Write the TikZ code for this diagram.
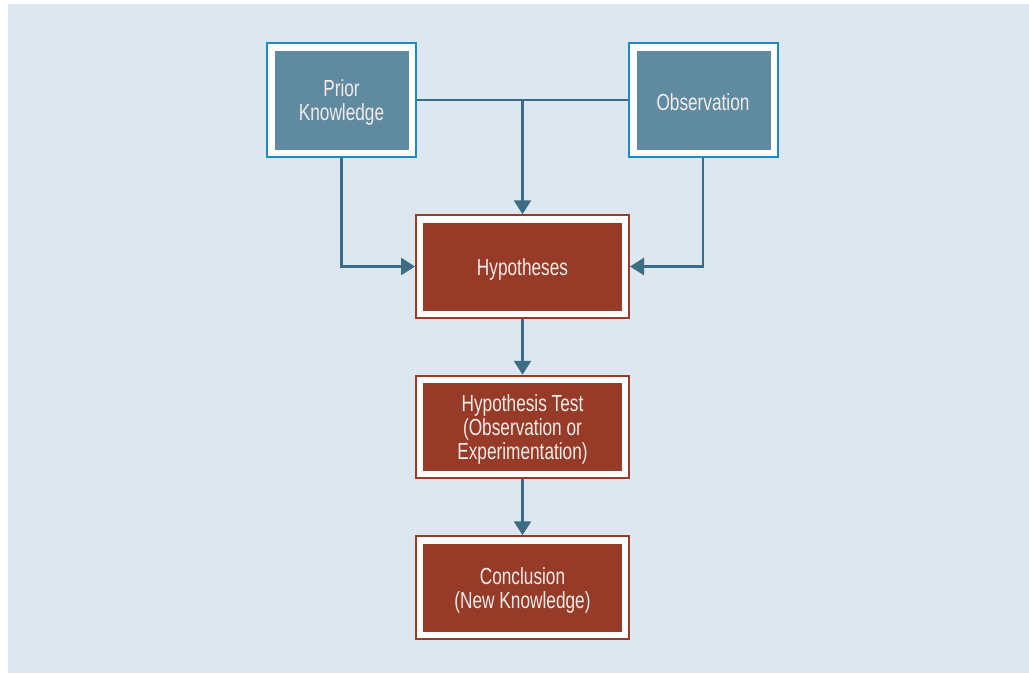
\documentclass[tikz,border=0pt]{standalone}
\usepackage{fontspec}
\setmainfont{Liberation Sans}[FakeStretch=0.74]
\usetikzlibrary{arrows.meta}
\definecolor{bgc}{HTML}{DCE7EF}
\definecolor{bluefill}{HTML}{5F8A9F}
\definecolor{blueline}{HTML}{1B8BC1}
\definecolor{redfill}{HTML}{963B27}
\definecolor{redline}{HTML}{9A3B2A}
\definecolor{conn}{HTML}{3C6D85}
\definecolor{txt}{HTML}{F4ECEA}
\tikzset{
  boxbase/.style={draw=#1, fill=white, line width=2pt, inner sep=0pt},
  boxtext/.style={align=center, text=txt, inner sep=0pt, yshift=-2.5pt,
    font=\fontsize{23.3}{24}\selectfont},
  bluebox/.style={boxbase=blueline, minimum width=149pt, minimum height=114pt,
    path picture={\fill[bluefill] ([shift={(8pt,-7.5pt)}]path picture bounding box.north west) rectangle ([shift={(-7pt,7.5pt)}]path picture bounding box.south east);},
    label={[boxtext]center:#1}},
  redbox/.style={boxbase=redline, minimum width=213pt, minimum height=102.5pt,
    path picture={\fill[redfill] ([shift={(7pt,-7.5pt)}]path picture bounding box.north west) rectangle ([shift={(-7pt,7pt)}]path picture bounding box.south east);},
    label={[boxtext]center:#1}},
  conline/.style={draw=conn, line width=2.6pt},
  arr/.style={conline, -{Triangle[length=14pt,width=17pt]}}
}
\begin{document}
\begin{tikzpicture}[x=1pt,y=-1pt]
\useasboundingbox (0,0) rectangle (1029,673);
\fill[bgc] (8,4) rectangle (1029,673);
\node[bluebox={Prior\\Knowledge}] (prior) at (341.5,100) {};
\node[bluebox={Observation}] (obs) at (703,100) {};
\node[redbox={Hypotheses}] (hyp) at (522.5,266.5) {};
\node[redbox={Hypothesis Test\\(Observation or\\Experimentation)}] (test) at (522.5,427) {};
\node[redbox={Conclusion\\(New Knowledge)}] (conc) at (522.5,587.5) {};
\draw[conline] (prior.east) -- (obs.west);
\coordinate (junc) at (prior.east -| hyp.north);
\draw[arr] (junc) -- (hyp.north);
\draw[arr] (prior.south) |- (hyp.west);
\draw[arr] (obs.south) |- (hyp.east);
\draw[arr] (hyp.south) -- (test.north);
\draw[arr] (test.south) -- (conc.north);
\end{tikzpicture}
\end{document}
